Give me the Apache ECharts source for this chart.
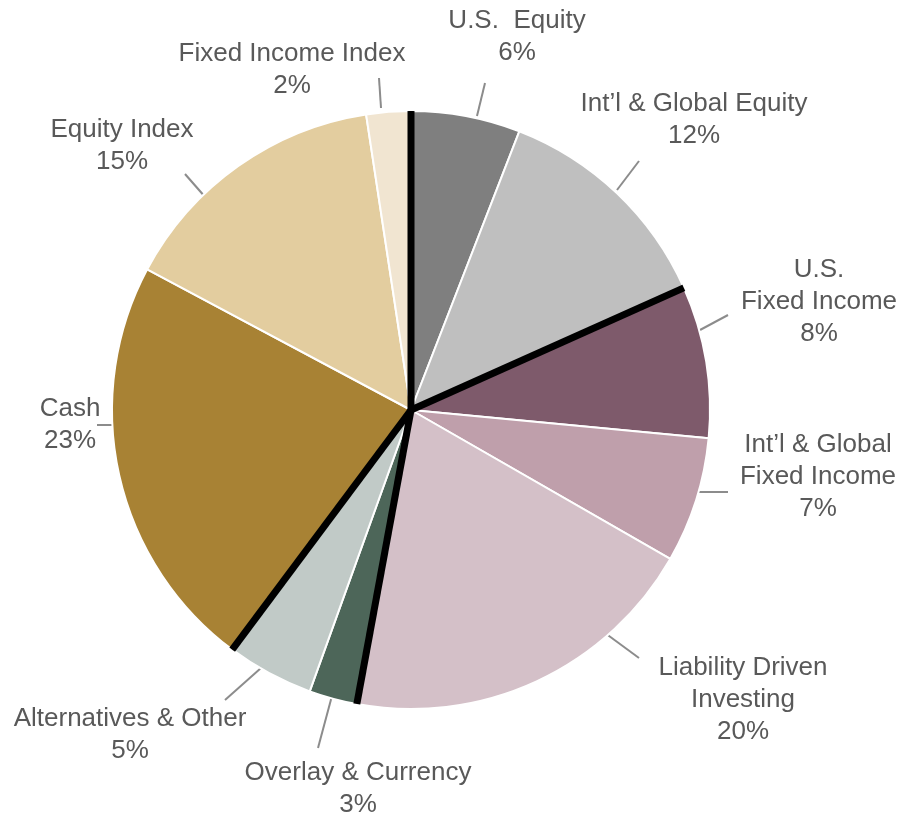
<!DOCTYPE html>
<html>
<head>
<meta charset="utf-8">
<script src="https://cdn.jsdelivr.net/npm/echarts@6/dist/echarts.min.js"></script>
<style>
  html, body { margin: 0; padding: 0; background: #ffffff; }
  #chart { width: 903px; height: 816px; }
</style>
</head>
<body>
<div id="chart"></div>
<script>
// ---- Data ----
const categories = [
  'U.S.  Equity',
  'Int\u2019l & Global Equity',
  'U.S.\nFixed Income',
  'Int\u2019l & Global\nFixed Income',
  'Liability Driven\nInvesting',
  'Overlay & Currency',
  'Alternatives & Other',
  'Cash',
  'Equity Index',
  'Fixed Income Index'
];
const values = [5.9, 12.4, 8.2, 6.8, 19.6, 2.6, 4.7, 22.6, 14.8, 2.4];
const groups = ['Equity', 'Equity', 'Fixed Income', 'Fixed Income', 'Fixed Income',
                'Overlay/Alt', 'Overlay/Alt', 'Cash/Index', 'Cash/Index', 'Cash/Index'];
const colors = ['#7f7f7f', '#bfbfbf', '#7e5a6b', '#bf9fab', '#d4c0c8',
                '#4d6659', '#c1cac7', '#a88234', '#e3cd9f', '#f1e5d1'];

// ---- Layout / style (hand-placed labels as in the original) ----
const CENTER = [411, 410];
const RADIUS = 299;
const labelCenters = [
  [517, 37], [694, 120], [819, 302], [818, 477], [743, 700],
  [358, 789], [130, 735], [70, 425], [122, 146], [292, 70]
];
const leaderLines = [
  [[477, 116], [485, 83]], [[617, 190], [639, 161]], [[700, 330], [728, 315]],
  [[697, 492], [728, 492]], [[605, 633], [639, 658]], [[333, 692], [318, 748]],
  [[270, 660], [225, 700]], [[135, 425], [97, 425]], [[206, 198], [185, 174]],
  [[381, 108], [379, 78]]
];

const total = values.reduce((a, b) => a + b, 0);

// group separators: boundaries where the group changes (cumulative value)
const separators = [];
let cum = 0;
for (let i = 0; i < values.length; i++) {
  const prev = groups[(i - 1 + values.length) % values.length];
  if (groups[i] !== prev) separators.push(cum);
  cum += values[i];
}

const sepSeries = separators.map(a => ({
  type: 'line',
  coordinateSystem: 'polar',
  data: [[0, a], [1.022, a]],
  symbol: 'none',
  silent: true,
  z: 10,
  lineStyle: { color: '#000000', width: 7, cap: 'butt' },
  animation: false
}));

const chart = echarts.init(document.getElementById('chart'), null, { renderer: 'canvas' });

chart.setOption({
  backgroundColor: '#ffffff',
  animation: false,
  polar: { center: CENTER, radius: RADIUS },
  angleAxis: {
    type: 'value', min: 0, max: total, startAngle: 90, clockwise: true,
    show: false
  },
  radiusAxis: { type: 'value', min: 0, max: 1, show: false },
  series: [
    {
      type: 'pie',
      center: CENTER,
      radius: RADIUS,
      startAngle: 90,
      clockwise: true,
      avoidLabelOverlap: false,
      z: 2,
      itemStyle: { borderColor: '#ffffff', borderWidth: 2 },
      emphasis: { disabled: true },
      label: {
        show: true,
        fontFamily: '"Liberation Sans", Arial, sans-serif',
        fontSize: 26,
        lineHeight: 32,
        color: '#595959',
        align: 'center',
        formatter: p => p.name + '\n' + Math.round(p.value / total * 100) + '%'
      },
      labelLine: {
        show: true,
        length: 30,
        length2: 0,
        smooth: false,
        lineStyle: { color: '#8c8c8c', width: 2 }
      },
      labelLayout: function (params) {
        const i = params.dataIndex;
        const c = labelCenters[i];
        const l = leaderLines[i];
        return {
          x: c[0], y: c[1], align: 'center', verticalAlign: 'middle',
          labelLinePoints: [l[0], l[1], l[1]]
        };
      },
      data: categories.map((n, i) => ({
        name: n, value: values[i], itemStyle: { color: colors[i] }
      }))
    }
  ].concat(sepSeries)
});
</script>
</body>
</html>
